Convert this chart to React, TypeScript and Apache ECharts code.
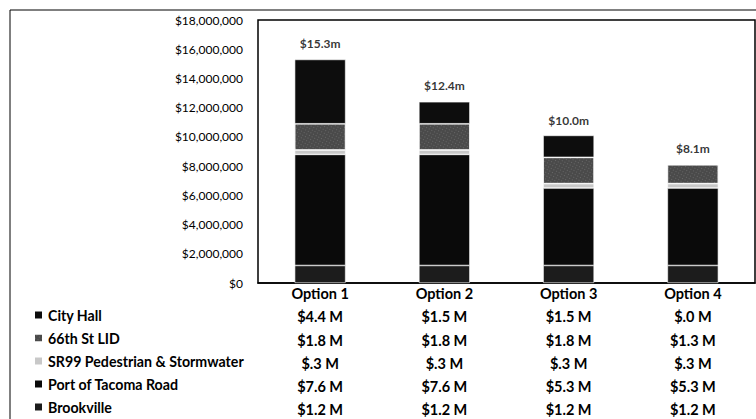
import React, { useEffect, useRef } from "react";
import * as echarts from "echarts";

const categories = ["Option 1", "Option 2", "Option 3", "Option 4"];
const cityHall = [4.4, 1.5, 1.5, 0.0];
const lid66 = [1.8, 1.8, 1.8, 1.3];
const sr99 = [0.3, 0.3, 0.3, 0.3];
const portTacoma = [7.6, 7.6, 5.3, 5.3];
const brookville = [1.2, 1.2, 1.2, 1.2];
const totals = [15.3, 12.4, 10.0, 8.1];
const yMax = 18;
const yInterval = 2;

const seriesNames = {
  cityHall: "City Hall",
  lid66: "66th St LID",
  sr99: "SR99 Pedestrian & Stormwater",
  port: "Port of Tacoma Road",
  brook: "Brookville",
};

const tableRows = [cityHall, lid66, sr99, portTacoma, brookville];

const fmtM = (v: number) => "$" + v.toFixed(1).replace(/^0/, "") + " M";

const FONT = "Lato, 'Liberation Sans', sans-serif";

export default function App() {
  const ref = useRef<HTMLDivElement>(null);
  useEffect(() => {
    if (!ref.current) return;
    const chart = echarts.init(ref.current, null, { renderer: "svg" });
    const barW = 51;
    const mk = (name: string, data: number[], color: string, decal?: any) => ({
      name,
      type: "bar",
      stack: "total",
      barWidth: barW,
      data,
      itemStyle: {
        color,
        borderColor: "#fff",
        borderWidth: 0.6,
        ...(decal ? { decal } : {}),
      },
    });
    chart.setOption({
      animation: false,
      backgroundColor: "#fff",
      textStyle: { fontFamily: FONT },
      grid: {
        left: 258,
        top: 20,
        right: 1,
        bottom: 136,
        show: true,
        borderColor: "#000",
        borderWidth: 1.5,
        containLabel: false,
        outerBoundsMode: "none",
      },
      legend: {
        orient: "vertical",
        left: 33,
        top: 308,
        height: 120,
        padding: 0,
        itemWidth: 9,
        itemHeight: 9,
        itemGap: 9,
        icon: "rect",
        selectedMode: false,
        textStyle: {
          fontFamily: FONT,
          fontSize: 14.2,
          fontWeight: "bold",
          color: "#000",
          lineHeight: 14,
        },
        data: [
          seriesNames.cityHall,
          seriesNames.lid66,
          seriesNames.sr99,
          seriesNames.port,
          seriesNames.brook,
        ],
      },
      xAxis: {
        type: "category",
        data: categories,
        axisLine: { show: true, lineStyle: { color: "#000", width: 1.5 } },
        axisTick: { show: false },
        axisLabel: {
          interval: 0,
          margin: -1,
          fontFamily: FONT,
          fontSize: 14.5,
          fontWeight: "bold",
          color: "#000",
          lineHeight: 23.2,
          verticalAlign: "top",
          formatter: (value: string, index: number) =>
            [value, ...tableRows.map((r) => fmtM(r[index]))].join("\n"),
        },
      },
      yAxis: {
        type: "value",
        min: 0,
        max: yMax,
        interval: yInterval,
        axisLine: { show: false },
        axisTick: { show: false },
        splitLine: { show: false },
        axisLabel: {
          margin: 15,
          fontFamily: FONT,
          fontSize: 12,
          color: "#000",
          formatter: (v: number) => "$" + Math.round(v * 1e6).toLocaleString("en-US"),
        },
      },
      series: [
        mk(seriesNames.brook, brookville, "#1c1c1c"),
        mk(seriesNames.port, portTacoma, "#0a0a0a"),
        mk(seriesNames.sr99, sr99, "#c8c8c8"),
        mk(seriesNames.lid66, lid66, "#4a4a4a", {
          symbol: "rect",
          symbolSize: 0.6,
          color: "rgba(255,255,255,0.55)",
          dashArrayX: [1, 2],
          dashArrayY: [1, 2],
          rotation: 0.5,
        }),
        mk(seriesNames.cityHall, cityHall, "#0d0d0d"),
        {
          name: "totals",
          type: "scatter",
          data: totals,
          symbolSize: 0,
          silent: true,
          label: {
            show: true,
            position: "top",
            distance: 10,
            fontFamily: FONT,
            fontSize: 12,
            fontWeight: "bold",
            color: "#000",
            formatter: (p: any) => "$" + Number(p.value).toFixed(1) + "m",
          },
        },
      ],
      graphic: [
        {
          type: "rect",
          silent: true,
          shape: { x: 10, y: 10, width: 800, height: 500 },
          style: { fill: "none", stroke: "#000", lineWidth: 1 },
        },
      ],
    });
    return () => chart.dispose();
  }, []);
  return (
    <div
      ref={ref}
      style={{ position: "absolute", left: 0, top: 0, width: 756, height: 419 }}
    />
  );
}
